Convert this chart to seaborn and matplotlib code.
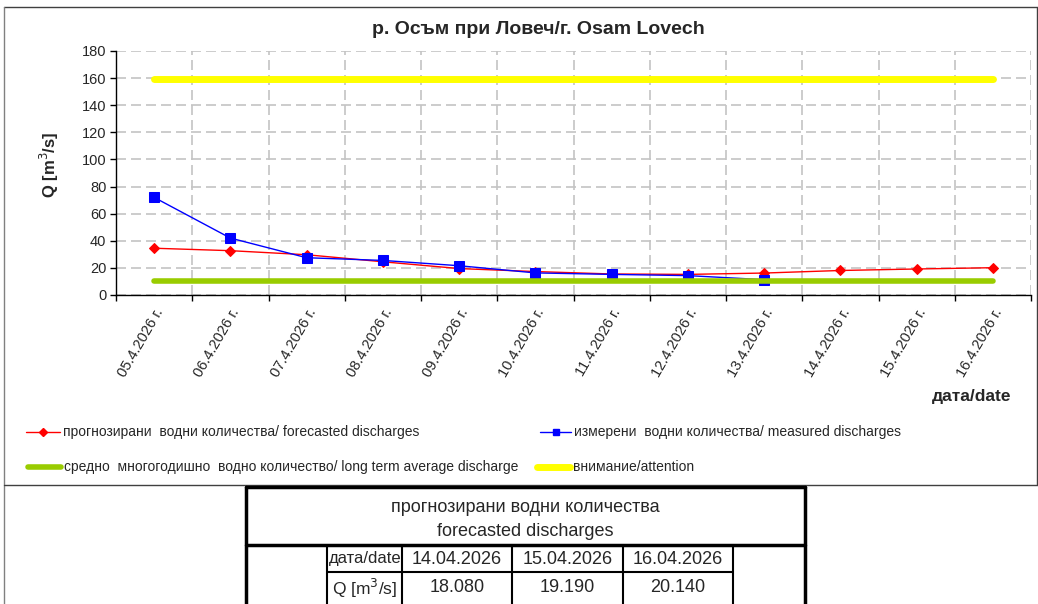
import numpy as np
import matplotlib
matplotlib.use("Agg")
import matplotlib.pyplot as plt
from matplotlib.lines import Line2D
import seaborn as sns

sns.set_theme(style="white")
plt.rcParams['font.family'] = ['Liberation Sans', 'DejaVu Sans']
NARROW = ['Liberation Sans Narrow', 'Liberation Sans', 'DejaVu Sans']

# data
dates = ["05.4.2026 г.", "06.4.2026 г.", "07.4.2026 г.", "08.4.2026 г.",
         "09.4.2026 г.", "10.4.2026 г.", "11.4.2026 г.", "12.4.2026 г.",
         "13.4.2026 г.", "14.4.2026 г.", "15.4.2026 г.", "16.4.2026 г."]
forecast = [34.5, 32.7, 29.7, 24.5, 19.5, 17.3, 15.5, 15.2, 16.2, 18.08, 19.19, 20.14]
measured = [72.0, 42.0, 27.5, 25.5, 21.6, 16.3, 15.2, 14.3, 11.3]
long_term_avg = 10.0
attention = 159.0

table_dates = ["14.04.2026", "15.04.2026", "16.04.2026"]
table_values = ["18.080", "19.190", "20.140"]

W, H = 1038, 604
def fx(x):
    return x / W
def fy(y):
    return 1 - y / H

fig = plt.figure(figsize=(W / 100, H / 100), dpi=100)
ax = fig.add_axes([fx(116), fy(295), fx(1031) - fx(116), fy(51) - fy(295)])

xpos = np.arange(len(dates))
sns.lineplot(x=xpos, y=forecast, color="#FF0000", marker="D", markersize=5.5,
             markeredgecolor="#FF0000", linewidth=1, ax=ax)
sns.lineplot(x=xpos[:len(measured)], y=measured, color="#0000FF", marker="s",
             markersize=7, markeredgecolor="#0000FF", linewidth=1, ax=ax)
sns.lineplot(x=xpos, y=[long_term_avg] * len(dates), color="#99CC00",
             linewidth=4, solid_capstyle="round", ax=ax)
sns.lineplot(x=xpos, y=[attention] * len(dates), color="#FFFF00",
             linewidth=5, solid_capstyle="round", ax=ax)

ax.set_xlim(-0.5, len(dates) - 0.5)
ax.set_ylim(0, 180)
ax.set_yticks(np.arange(0, 181, 20))
ax.set_xticks(np.arange(-0.5, len(dates), 1))
ax.set_xticklabels([])
ax.set_xticks(xpos, minor=True)
ax.set_xticklabels(dates, minor=True, rotation=60, ha="right", va="top",
                   rotation_mode="anchor", fontsize=10.5)
ax.tick_params(axis="x", which="minor", length=0, pad=8)
ax.tick_params(axis="x", which="major", direction="out", length=4, width=1,
               color="black", bottom=True)
ax.tick_params(axis="y", direction="out", length=4, width=1, color="black",
               left=True, labelsize=10.5, pad=3)
ax.grid(True, which="major", color="#C4C4C4", linestyle=(0, (6, 3)), linewidth=1.2)
ax.set_axisbelow(True)
for s in ["top", "right"]:
    ax.spines[s].set_visible(False)
for s in ["left", "bottom"]:
    ax.spines[s].set_color("black")
    ax.spines[s].set_linewidth(1)
ax.set_xlabel("")
ax.set_ylabel("")

fig.text(fx(538), fy(30), "р. Осъм при Ловеч/г. Osam Lovech", ha="center",
         va="center", fontsize=14, fontweight="bold", family=NARROW)
fig.text(fx(49), fy(165), "Q [m$^3$/s]", rotation=90, ha="center", va="center",
         fontsize=12, fontweight="bold")
fig.text(fx(972), fy(397), "дата/date", ha="center", va="center",
         fontsize=12.5, fontweight="bold")

# legend drawn by hand at the reference positions
def leg_line(x0, x1, y, color, lw, marker=None, ms=0, text=""):
    fig.add_artist(Line2D([fx(x0), fx(x1)], [fy(y), fy(y)], color=color, lw=lw,
                          solid_capstyle="round", transform=fig.transFigure))
    if marker:
        fig.add_artist(Line2D([fx((x0 + x1) / 2)], [fy(y)], color=color, marker=marker,
                              markersize=ms, transform=fig.transFigure))
    fig.text(fx(x1 + 3), fy(y), text, ha="left", va="center", fontsize=10, family=NARROW)

leg_line(26, 60, 432, "#FF0000", 1, "D", 4,
         "прогнозирани  водни количества/ forecasted discharges")
leg_line(540, 571, 432, "#0000FF", 1, "s", 5,
         "измерени  водни количества/ measured discharges")
leg_line(28, 61, 467, "#99CC00", 4, text="средно  многогодишно  водно количество/ long term average discharge")
leg_line(537, 570, 467, "#FFFF00", 5, text="внимание/attention")

# chart frame
def fline(x0, y0, x1, y1, lw=1, color="#404040"):
    fig.add_artist(Line2D([fx(x0), fx(x1)], [fy(y0), fy(y1)], color=color, lw=lw,
                          transform=fig.transFigure))

fline(4, 7, 1037, 7)
fline(4, 7, 4, 604, color="#808080")
fline(1037, 7, 1037, 485)
fline(4, 485, 1037, 485)

# forecast table
fline(246, 487, 805, 487, lw=2.5, color="black")
fline(246, 487, 246, 604, lw=2.5, color="black")
fline(805, 487, 805, 604, lw=2.5, color="black")
fline(246, 545, 805, 545, lw=2.5, color="black")
col_edges = [327, 402, 512, 623, 733]
for cx in col_edges:
    fline(cx, 545, cx, 604, lw=1.5, color="black")
fline(327, 572, 733, 572, lw=1.5, color="black")

fig.text(fx(525), fy(508), "прогнозирани водни количества", ha="center", va="center", fontsize=13)
fig.text(fx(525), fy(531), "forecasted discharges", ha="center", va="center", fontsize=13)
fig.text(fx((327 + 402) / 2 + 1), fy(559), "дата/date", ha="center", va="center", fontsize=12)
fig.text(fx((327 + 402) / 2), fy(588), "Q [m$^3$/s]", ha="center", va="center", fontsize=12.5)
for i, (d, v) in enumerate(zip(table_dates, table_values)):
    cx = (col_edges[i + 1] + col_edges[i + 2]) / 2
    fig.text(fx(cx), fy(559), d, ha="center", va="center", fontsize=13)
    fig.text(fx(cx), fy(588), v, ha="center", va="center", fontsize=13)

fig.savefig("out.png", dpi=100)
